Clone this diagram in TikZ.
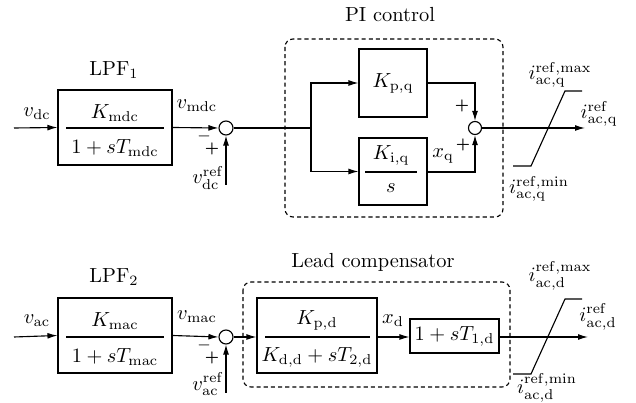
\documentclass[tikz,border=0pt]{standalone}
\usetikzlibrary{arrows.meta}
\begin{document}
\begin{tikzpicture}[x=0.49pt,y=-0.49pt,line width=0.55pt,
  blk/.style={draw, rectangle, inner sep=0pt},
  sumc/.style={draw, circle, inner sep=0pt},
  arr/.style={-{Latex[length=4.9pt,width=2.9pt]}},
  grp/.style={dash pattern=on 2pt off 1.5pt, rounded corners=3.9pt},
  lbl/.style={inner sep=0pt},
  sgn/.style={inner sep=0pt, font=\scriptsize\bfseries},
  msgn/.style={inner sep=0pt, font=\footnotesize}]
\useasboundingbox (0,0) rectangle (636,403);

% ---------------- top row ----------------
\coordinate (in1) at (14,128);
\node[blk, minimum width=55.86pt, minimum height=36.75pt] (lpf1) at (115,127.5) {};
\node[lbl] (lpf1n) at (115,113) {$K_{\mathrm{mdc}}$};
\node[lbl] (lpf1d) at (115,148) {$1+sT_{\mathrm{mdc}}$};
\coordinate (lpf1a) at (66,128);
\coordinate (lpf1b) at (164,128);
\draw (lpf1a) -- (lpf1b);
\node[lbl] (lpf1t) at (114,70) {$\mathrm{LPF}_1$};
\node[lbl] (vdc) at (37,114) {$v_{\mathrm{dc}}$};
\draw[arr] (in1) -- (lpf1.west);

\node[sumc, minimum size=6.86pt] (s1) at (226,128) {};
\draw[arr] (lpf1.east) -- (s1.west);
\node[lbl] (vmdc) at (197,106) {$v_{\mathrm{mdc}}$};
\node[msgn] (m1) at (204,136) {$-$};
\node[sgn] (p1) at (212,149) {+};
\coordinate (r1) at (226,185);
\draw[arr] (r1) -- (s1.south);
\node[lbl] (vdcref) at (208,178) {$v_{\mathrm{dc}}^{\mathrm{ref}}$};

\coordinate (b1) at (311,128);
\draw (s1.east) -- (b1);
\node[blk, minimum width=33.32pt, minimum height=33.32pt] (kp) at (393,83) {$K_{\mathrm{p,q}}$};
\node[blk, minimum width=33.32pt, minimum height=32.83pt] (ki) at (393,171.5) {};
\node[lbl] (kin) at (391,155) {$K_{\mathrm{i,q}}$};
\node[lbl] (kid) at (391,188) {$s$};
\coordinate (kia) at (365,172);
\coordinate (kib) at (417,172);
\draw (kia) -- (kib);
\draw[arr] (b1) |- (kp.west);
\draw[arr] (b1) |- (ki.west);

\node[sumc, minimum size=6.37pt] (s2) at (475,128) {};
\draw[arr] (kp.east) -| (s2.north);
\draw[arr] (ki.east |- kia) -| (s2.south);
\node[sgn] (p2) at (462,106) {+};
\node[sgn] (p3) at (463,145) {+};
\node[lbl] (xq) at (443,156) {$x_{\mathrm{q}}$};

\coordinate (out1) at (585,128);
\draw[arr] (s2.east) -- (out1);
\coordinate (sa1) at (513,166);
\coordinate (sa2) at (531,166);
\coordinate (sa3) at (565,91);
\coordinate (sa4) at (582,91);
\draw (sa1) -- (sa2) -- (sa3) -- (sa4);
\node[lbl] (iqmax) at (560,75) {$i_{\mathrm{ac,q}}^{\mathrm{ref,max}}$};
\node[lbl] (iqref) at (599,114) {$i_{\mathrm{ac,q}}^{\mathrm{ref}}$};
\node[lbl] (iqmin) at (539,189) {$i_{\mathrm{ac,q}}^{\mathrm{ref,min}}$};

\coordinate (g1a) at (285,39);
\coordinate (g1b) at (503,217);
\draw[grp] (g1a) rectangle (g1b);
\node[lbl] (pit) at (390,15) {PI control};

% ---------------- bottom row ----------------
\coordinate (in2) at (14,337);
\node[blk, minimum width=55.86pt, minimum height=36.75pt] (lpf2) at (115,335.5) {};
\node[lbl] (lpf2n) at (115,321) {$K_{\mathrm{mac}}$};
\node[lbl] (lpf2d) at (115,357) {$1+sT_{\mathrm{mac}}$};
\coordinate (lpf2a) at (66,337);
\coordinate (lpf2b) at (164,337);
\draw (lpf2a) -- (lpf2b);
\node[lbl] (lpf2t) at (114,277) {$\mathrm{LPF}_2$};
\node[lbl] (vac) at (37,321) {$v_{\mathrm{ac}}$};
\draw[arr] (in2) -- (lpf2.west);

\node[sumc, minimum size=6.86pt] (s3) at (226,337) {};
\draw[arr] (lpf2.east) -- (s3.west);
\node[lbl] (vmac) at (197,317) {$v_{\mathrm{mac}}$};
\node[msgn] (m3) at (204,345) {$-$};
\node[sgn] (p4) at (212,358) {+};
\coordinate (r3) at (226,393);
\draw[arr] (r3) -- (s3.south);
\node[lbl] (vacref) at (208,384) {$v_{\mathrm{ac}}^{\mathrm{ref}}$};

\node[blk, minimum width=58.8pt, minimum height=36.75pt] (lead) at (317,335.5) {};
\node[lbl] (leadn) at (317,320) {$K_{\mathrm{p,d}}$};
\node[lbl] (leadd) at (317,357) {$K_{\mathrm{d,d}}+sT_{2,\mathrm{d}}$};
\coordinate (leada) at (265,337);
\coordinate (leadb) at (370,337);
\draw (leada) -- (leadb);
\draw[arr] (s3.east) -- (lead.west |- s3.east);

\node[blk, minimum width=43.61pt, minimum height=16.66pt] (t1) at (454.5,336) {$1+sT_{1,\mathrm{d}}$};
\draw[arr] (lead.east |- leada) -- (t1.west |- leada);
\node[lbl] (xd) at (393,321) {$x_{\mathrm{d}}$};

\coordinate (out2) at (588,337);
\draw[arr] (t1.east |- leada) -- (out2);
\coordinate (sb1) at (513,374);
\coordinate (sb2) at (531,374);
\coordinate (sb3) at (565,299);
\coordinate (sb4) at (582,299);
\draw (sb1) -- (sb2) -- (sb3) -- (sb4);
\node[lbl] (idmax) at (560,276) {$i_{\mathrm{ac,d}}^{\mathrm{ref,max}}$};
\node[lbl] (idref) at (598,317) {$i_{\mathrm{ac,d}}^{\mathrm{ref}}$};
\node[lbl] (idmin) at (547,388) {$i_{\mathrm{ac,d}}^{\mathrm{ref,min}}$};

\coordinate (g2a) at (243,282);
\coordinate (g2b) at (510,387);
\draw[grp] (g2a) rectangle (g2b);
\node[lbl] (leadt) at (373,262) {Lead compensator};
\end{tikzpicture}
\end{document}
